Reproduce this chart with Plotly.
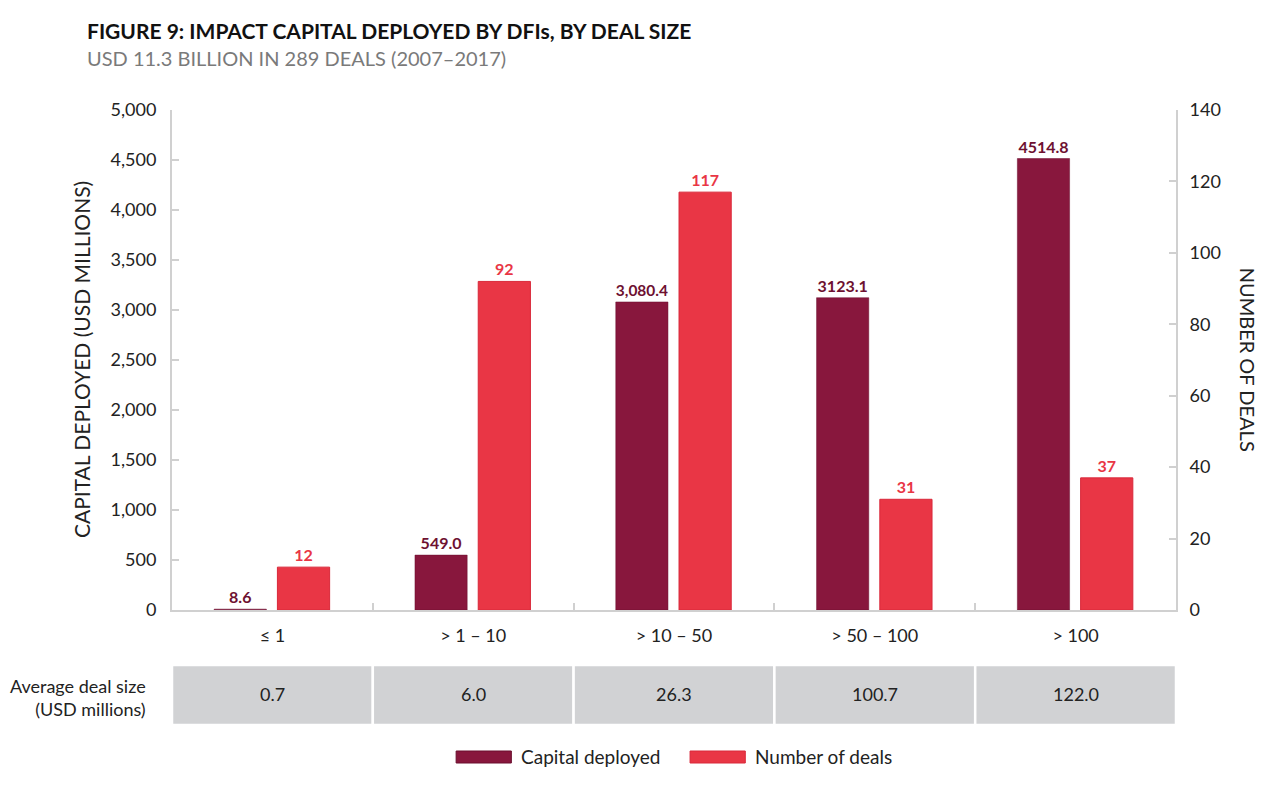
import plotly.graph_objects as go

# ---- data ----
deal_sizes = ["≤ 1", "> 1 – 10", "> 10 – 50", "> 50 – 100", "> 100"]
capital_deployed = [8.6, 549.0, 3080.4, 3123.1, 4514.8]
capital_labels = ["8.6", "549.0", "3,080.4", "3123.1", "4514.8"]
number_of_deals = [12, 92, 117, 31, 37]
avg_deal_size = ["0.7", "6.0", "26.3", "100.7", "122.0"]

DARK = "#88173d"
DARK_TXT = "#6e1131"
RED = "#e93645"
GREY_AXIS = "#d0d0d0"
CELL = "#d1d2d4"
FONT = "Lato"

fig = go.Figure()

fig.add_trace(go.Bar(
    x=deal_sizes, y=capital_deployed, name="Capital deployed",
    marker=dict(color=DARK, line=dict(color="#6a0f2e", width=0.5)),
    width=0.26, offset=-0.29,
    text=capital_labels, textposition="outside", cliponaxis=False,
    textfont=dict(family=FONT, size=16, color=DARK_TXT, weight="bold"),
    yaxis="y", showlegend=False,
))
fig.add_trace(go.Bar(
    x=deal_sizes, y=number_of_deals, name="Number of deals",
    marker=dict(color=RED, line=dict(color="#d9283a", width=1)),
    width=0.26, offset=0.025,
    text=[str(v) for v in number_of_deals], textposition="outside", cliponaxis=False,
    textfont=dict(family=FONT, size=16, color=RED, weight="bold"),
    yaxis="y2", showlegend=False,
))

# average deal size table under the axis
for i, val in enumerate(avg_deal_size):
    fig.add_shape(type="rect", xref="x", yref="paper",
                  x0=i - 0.5, x1=i + 0.5, y0=-0.23, y1=-0.11,
                  fillcolor=CELL, line=dict(color="white", width=2.5), layer="below")
    fig.add_annotation(x=deal_sizes[i], y=-0.194, xref="x", yref="paper",
                       text=val, showarrow=False,
                       font=dict(family=FONT, size=18, color="#222"))

fig.add_annotation(x=-0.024, y=-0.223, xref="paper", yref="paper",
                   text="Average deal size<br>(USD millions)", showarrow=False,
                   xanchor="right", align="right",
                   font=dict(family=FONT, size=18, color="#222"))

# axis titles
fig.add_annotation(x=-0.105, y=0.5, xref="paper", yref="paper",
                   text="CAPITAL DEPLOYED (USD MILLIONS)", showarrow=False, textangle=-90,
                   font=dict(family=FONT, size=21, color="#222"))
fig.add_annotation(x=1.086, y=0.5, xref="paper", yref="paper",
                   text="NUMBER OF DEALS", showarrow=False, textangle=90,
                   font=dict(family=FONT, size=20, color="#222"))

# legend with wide swatches, like the original
legend_items = [("Capital deployed", DARK, "#6a0f2e", 0.283), ("Number of deals", RED, "#d9283a", 0.516)]
for label, fill, edge, x0 in legend_items:
    fig.add_shape(type="rect", xref="paper", yref="paper",
                  x0=x0, x1=x0 + 0.055, y0=-0.306, y1=-0.282,
                  fillcolor=fill, line=dict(color=edge, width=1))
    fig.add_annotation(x=x0 + 0.063, y=-0.32, xref="paper", yref="paper",
                       text=label, showarrow=False, xanchor="left",
                       font=dict(family=FONT, size=19, color="#222"))

fig.update_layout(
    width=1280, height=786,
    margin=dict(l=164, r=112, t=102, b=184),
    paper_bgcolor="white", plot_bgcolor="white",
    font=dict(family=FONT, color="#222"),
    title=dict(
        text="<b>FIGURE 9: IMPACT CAPITAL DEPLOYED BY DFIs, BY DEAL SIZE</b><br>"
             "<span style='font-size:20px;color:#7a7a7a'>USD 11.3 BILLION IN 289 DEALS (2007–2017)</span>",
        x=79 / 1280, xanchor="left", y=0.961, yanchor="top",
        font=dict(family=FONT, size=21, color="#111"),
    ),
    showlegend=False,
    xaxis=dict(
        type="category", range=[-0.5, 4.5],
        showline=True, linecolor=GREY_AXIS, linewidth=2,
        ticks="inside", tickson="boundaries", ticklen=7, tickcolor=GREY_AXIS, tickwidth=2,
        tickfont=dict(family=FONT, size=18, color="#222"), ticklabelstandoff=8,
        showgrid=False,
    ),
    yaxis=dict(
        range=[0, 5000], dtick=500, tickformat=",",
        showline=True, linecolor=GREY_AXIS, linewidth=2,
        ticks="inside", ticklen=7, tickcolor=GREY_AXIS, tickwidth=2,
        tickfont=dict(family=FONT, size=18, color="#222"), ticklabelstandoff=10,
        showgrid=False, zeroline=False,
    ),
    yaxis2=dict(
        range=[0, 140], dtick=20, overlaying="y", side="right",
        showline=True, linecolor=GREY_AXIS, linewidth=2,
        ticks="inside", ticklen=7, tickcolor=GREY_AXIS, tickwidth=2,
        tickfont=dict(family=FONT, size=18, color="#222"), ticklabelstandoff=8,
        showgrid=False, zeroline=False,
    ),
)

fig.write_html("out.html")
